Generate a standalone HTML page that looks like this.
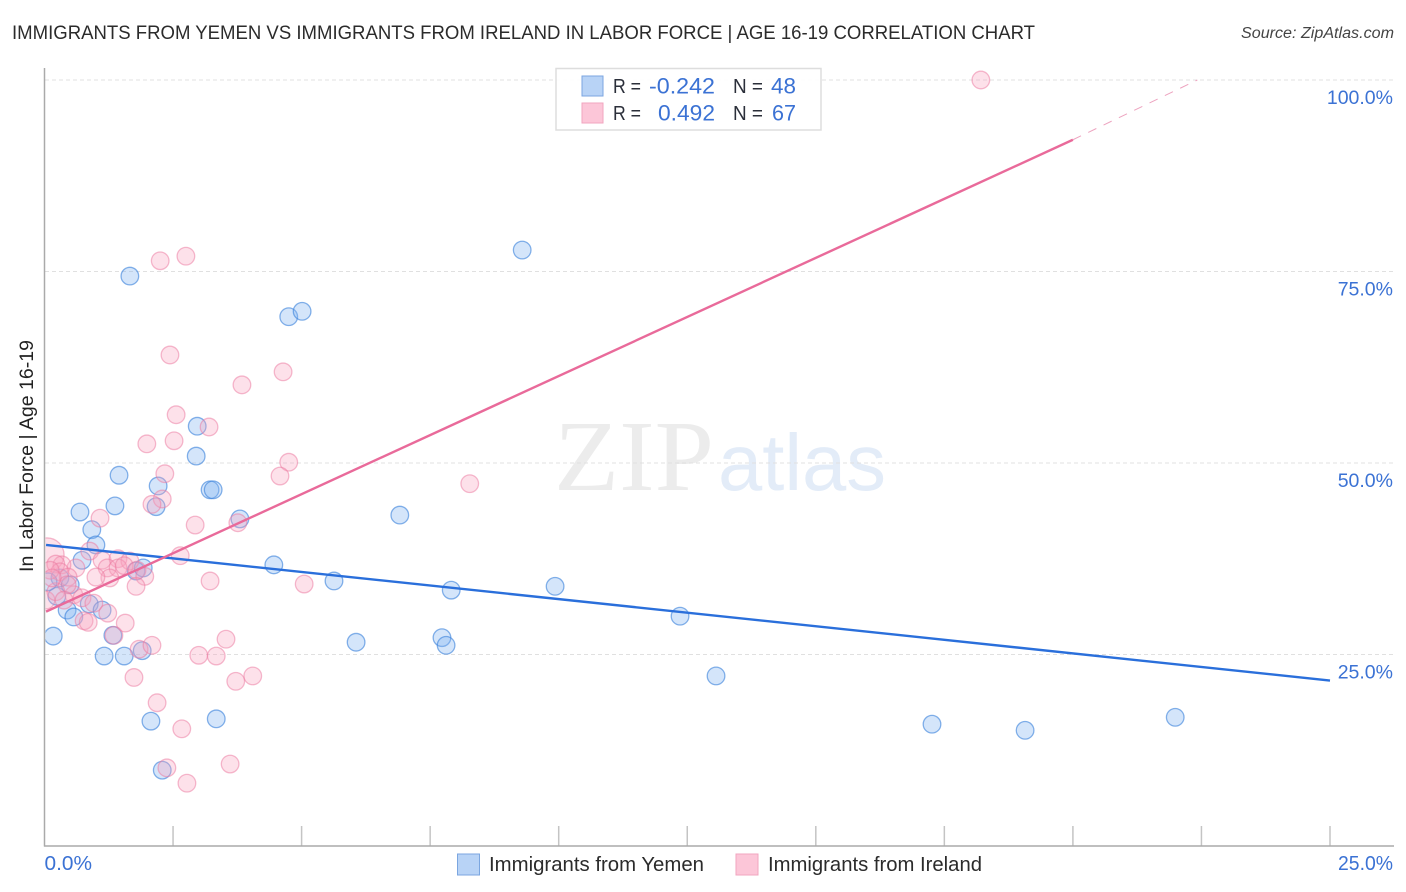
<!DOCTYPE html>
<html lang="en">
<head>
<meta charset="utf-8">
<title>Immigrants from Yemen vs Immigrants from Ireland in Labor Force | Age 16-19 Correlation Chart</title>
<style>
html,body{margin:0;padding:0;background:#fff;}
svg{display:block;font-family:"Liberation Sans",sans-serif;}
</style>
</head>
<body>
<svg id="chart" xmlns="http://www.w3.org/2000/svg" width="1406" height="892" viewBox="0 0 1406 892">
  <text x="12" y="39" font-size="19.5" fill="#2b2b2b" textLength="1023" lengthAdjust="spacingAndGlyphs">IMMIGRANTS FROM YEMEN VS IMMIGRANTS FROM IRELAND IN LABOR FORCE | AGE 16-19 CORRELATION CHART</text>
  <text x="1241" y="38" font-size="15.5" font-style="italic" fill="#444" textLength="153" lengthAdjust="spacingAndGlyphs">Source: ZipAtlas.com</text>

  <g>
    <text x="554" y="490" font-family="'Liberation Serif',serif" font-size="101" fill="#ececec" textLength="160" lengthAdjust="spacingAndGlyphs">ZIP</text>
    <text x="718" y="490" font-size="80" fill="#e3ecf8" textLength="168" lengthAdjust="spacingAndGlyphs">atlas</text>
  </g>

  <g id="grid"></g>
  <g id="axes"></g>
  <svg id="points" x="45.5" y="60" width="1350" height="786" viewBox="45.5 60 1350 786" overflow="hidden"></svg>
  <g id="trends"></g>
  <g id="ticklabels"></g>

  <text transform="translate(33,456) rotate(-90)" font-size="19.5" fill="#222" text-anchor="middle" textLength="232" lengthAdjust="spacingAndGlyphs">In Labor Force | Age 16-19</text>

  <g>
    <rect x="556" y="68.5" width="265" height="61.5" fill="#fff" fill-opacity="0.92" stroke="#ddd" stroke-width="1.5"/>
    <rect x="582" y="76" width="21" height="20" fill="#b8d3f6" stroke="#7ba6e0" stroke-width="1"/>
    <rect x="582" y="103" width="21" height="20" fill="#fcc6d8" stroke="#f2a5bf" stroke-width="1"/>
    <g font-size="20" fill="#2b2f3a">
      <text x="613" y="93" textLength="28" lengthAdjust="spacingAndGlyphs">R =</text>
      <text x="733" y="93" textLength="30" lengthAdjust="spacingAndGlyphs">N =</text>
      <text x="613" y="120" textLength="28" lengthAdjust="spacingAndGlyphs">R =</text>
      <text x="733" y="120" textLength="30" lengthAdjust="spacingAndGlyphs">N =</text>
    </g>
    <g font-size="22" fill="#3b72d4">
      <text x="649" y="93.5" textLength="66" lengthAdjust="spacingAndGlyphs">-0.242</text>
      <text x="771" y="93.5" textLength="25" lengthAdjust="spacingAndGlyphs">48</text>
      <text x="658" y="120.5" textLength="57" lengthAdjust="spacingAndGlyphs">0.492</text>
      <text x="772" y="120.5" textLength="24" lengthAdjust="spacingAndGlyphs">67</text>
    </g>
  </g>

  <g>
    <rect x="457.5" y="854" width="22" height="21" fill="#b8d3f6" stroke="#7ba6e0" stroke-width="1"/>
    <text x="489" y="871" font-size="20.5" fill="#2b2b2b" textLength="215" lengthAdjust="spacingAndGlyphs">Immigrants from Yemen</text>
    <rect x="736" y="854" width="22" height="21" fill="#fcc6d8" stroke="#f2a5bf" stroke-width="1"/>
    <text x="768" y="871" font-size="20.5" fill="#2b2b2b" textLength="214" lengthAdjust="spacingAndGlyphs">Immigrants from Ireland</text>
  </g>
</svg>
<script>
// Chart data (percent units)
const yemenX = [1.66,9.29,4.75,5.01,2.97,2.95,3.22,3.28,1.45,1.37,0.69,2.21,2.17,3.80,0.92,1.00,0.73,6.91,4.46,5.63,7.91,9.93,12.36,6.06,7.73,7.81,13.06,17.26,19.07,21.99,2.07,3.34,2.29,1.16,1.55,1.90,1.33,0.17,0.24,0.44,0.57,0.87,1.12,0.30,0.50,1.78,1.92,0.07];
const yemenY = [74.4,77.8,69.1,69.8,54.8,50.9,46.5,46.5,48.4,44.4,43.6,47.0,44.3,42.7,41.3,39.3,37.3,43.2,36.7,34.6,33.4,33.9,30.0,26.6,27.2,26.2,22.2,15.9,15.1,16.8,16.3,16.6,9.9,24.8,24.8,25.5,27.5,27.4,32.6,30.8,29.9,31.6,30.8,35.0,34.1,35.9,36.3,34.5];
const irelandX = [18.21,2.75,2.25,2.44,4.64,3.84,2.56,3.20,1.99,2.52,4.75,4.58,2.34,8.27,2.29,2.09,2.93,3.76,1.08,0.88,0.05,1.12,1.43,1.66,1.22,1.43,1.55,1.80,1.95,1.78,1.27,1.00,0.61,0.34,0.22,0.30,0.46,0.11,3.22,5.05,2.64,0.57,0.73,0.96,1.23,1.57,0.77,0.85,1.35,1.84,2.09,3.53,3.00,3.34,4.05,3.72,1.74,2.19,2.67,2.38,2.77,3.61,0.03,0.44,0.22,0.38,0.15];
const irelandY = [100,77.0,76.4,64.1,61.9,60.2,56.3,54.7,52.5,52.9,50.1,48.3,48.6,47.3,45.3,44.6,41.9,42.2,42.8,38.5,38.0,37.3,37.5,37.2,36.3,36.3,36.6,36.0,35.2,33.9,35.0,35.1,36.3,36.7,36.8,35.8,35.1,36.0,34.6,34.2,37.9,32.8,32.4,31.7,30.4,29.1,29.4,29.2,27.5,25.7,26.2,27.0,24.9,24.8,22.2,21.5,22.0,18.7,15.3,10.2,8.2,10.7,32.1,34.1,33.2,32.1,35.0];
// Index of the large-sample observation in the Ireland series
const irelandLargeSample = [20];
const yemenTrendX = [0.03, 25];
const yemenTrendY = [39.3, 21.6];
const irelandTrendX = [0.03, 20];
const irelandTrendY = [30.6, 92.2];
const irelandExtrapX = [20, 22.42];
const irelandExtrapY = [92.2, 100];
const yTicks = [25, 50, 75, 100];
const yTickLabels = ["25.0%", "50.0%", "75.0%", "100.0%"];
const xTicks = [2.5, 5, 7.5, 10, 12.5, 15, 17.5, 20, 22.5, 25];
const xAxisLabelValues = [0, 25];
const xAxisLabels = ["0.0%", "25.0%"];

// Axis functions
const X0 = 44.5, X25 = 1330, Y0 = 846, Y100 = 80;
function xScale(v) { return X0 + (X25 - X0) * v / 25; }
function yScale(v) { return Y0 - (Y0 - Y100) * v / 100; }

const NS = 'http://www.w3.org/2000/svg';
function make(tag, parent, attrs) {
  const el = document.createElementNS(NS, tag);
  for (const k in attrs) el.setAttribute(k, attrs[k]);
  parent.appendChild(el);
  return el;
}

const grid = document.getElementById('grid');
const axes = document.getElementById('axes');
const points = document.getElementById('points');
const trends = document.getElementById('trends');
const tickLabels = document.getElementById('ticklabels');

yTicks.forEach(function (t, i) {
  const g = make('line', grid, {x1: 45, x2: 1394, y1: yScale(t), y2: yScale(t), stroke: '#e0e0e0', 'stroke-width': 1, 'stroke-dasharray': '4 3'});
  
  
  const lab = make('text', tickLabels, {x: 1393, y: yScale(t) + 24, 'font-size': 19.5, fill: '#3b72d4', 'text-anchor': 'end'});
  lab.textContent = yTickLabels[i];
  
  
});

xTicks.forEach(function (t) {
  const tk = make('line', axes, {x1: xScale(t), x2: xScale(t), y1: 826, y2: 846, stroke: '#c4c4c4', 'stroke-width': 1.5});
  
  
});

const yAxis = make('line', axes, {x1: 44.5, x2: 44.5, y1: 68, y2: 846.5, stroke: '#aaa', 'stroke-width': 1.5});


const xAxis = make('line', axes, {x1: 44, x2: 1394, y1: 846, y2: 846, stroke: '#aaa', 'stroke-width': 1.5});



xAxisLabelValues.forEach(function (v, i) {
  const lab = make('text', tickLabels, {x: i === 0 ? xScale(v) : 1338, y: 870, 'font-size': 20, fill: '#3b72d4', textLength: i === 0 ? 47.5 : 55, lengthAdjust: 'spacingAndGlyphs'});
  lab.textContent = xAxisLabels[i];
  
  
});

yemenX.forEach(function (v, i) {
  const c = make('circle', points, {cx: xScale(v), cy: yScale(yemenY[i]), r: 8.8, fill: 'rgba(130,180,240,0.34)', stroke: 'rgba(60,130,220,0.62)', 'stroke-width': 1.3});
  
  
});
irelandX.forEach(function (v, i) {
  const r = irelandLargeSample.indexOf(i) >= 0 ? 17 : 8.8;
  const c = make('circle', points, {cx: xScale(v), cy: yScale(irelandY[i]), r: r, fill: 'rgba(250,165,192,0.33)', stroke: 'rgba(236,122,162,0.52)', 'stroke-width': 1.3});
  
  
});

const yemenLine = make('line', trends, {x1: xScale(yemenTrendX[0]), y1: yScale(yemenTrendY[0]), x2: xScale(yemenTrendX[1]), y2: yScale(yemenTrendY[1]), stroke: '#2a6fdb', 'stroke-width': 2.4});


const irelandLine = make('line', trends, {x1: xScale(irelandTrendX[0]), y1: yScale(irelandTrendY[0]), x2: xScale(irelandTrendX[1]), y2: yScale(irelandTrendY[1]), stroke: '#e96a9a', 'stroke-width': 2.4});


const irelandDash = make('line', trends, {x1: xScale(irelandExtrapX[0]), y1: yScale(irelandExtrapY[0]), x2: xScale(irelandExtrapX[1]), y2: yScale(irelandExtrapY[1]), stroke: '#eda3bf', 'stroke-width': 1, 'stroke-dasharray': '9 8'});


</script>
</body>
</html>
